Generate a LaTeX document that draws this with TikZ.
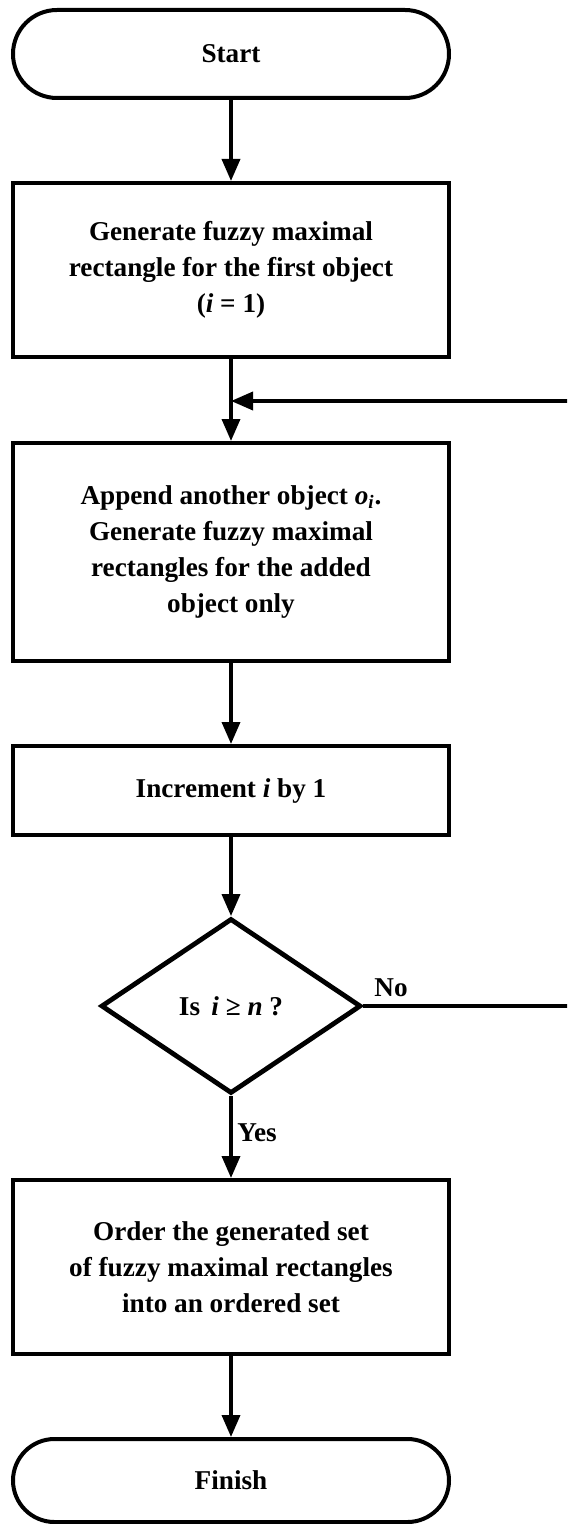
\documentclass[tikz,border=0pt]{standalone}
\usepackage{fontspec}
\setmainfont{Liberation Serif}
\usetikzlibrary{arrows.meta,shapes.geometric}

\begin{document}
\begin{tikzpicture}[x=0.5pt,y=-0.5pt,
  every node/.style={font=\fontsize{13.6}{18}\selectfont\bfseries},
  proc/.style={draw, line width=2pt, minimum width=218pt, align=center, inner sep=0pt},
  term/.style={draw, line width=2pt, minimum width=218pt, minimum height=44pt, rounded corners=22pt},
  decision/.style={draw, diamond, line width=2.4pt, minimum width=130pt, minimum height=87.5pt, inner sep=0pt},
  flow/.style={line width=1.8pt, -{Triangle[width=9pt,length=11pt]}},
  lbl/.style={inner sep=0pt}]

  % page frame; the loop-back line runs past the right edge
  \useasboundingbox (0,0) rectangle (567,1524);
  \clip (0,0) rectangle (567,1524);

  % steps, all on one vertical axis
  \node[term] (start) at (231,54) {Start};
  \node[proc, minimum height=87pt] (gen1) at (231,270)
    {Generate fuzzy maximal\\ rectangle for the first object\\ (\textit{i} = 1)};
  \coordinate (join) at (231,401);
  \node[proc, minimum height=109pt] (gen2) at (231,552)
    {Append another object \textit{o}\textsubscript{\textit{i}}.\\ Generate fuzzy maximal\\ rectangles for the added\\ object only};
  \node[proc, minimum height=44.5pt] (inc) at (231,790.5) {Increment \textit{i} by 1};
  \node[decision] (dec) at (231,1006) {Is\, \textit{i} ≥ \textit{n} ?};
  \node[proc, minimum height=87pt] (order) at (231,1267)
    {Order the generated set\\ of fuzzy maximal rectangles\\ into an ordered set};
  \node[term, minimum height=41.5pt, rounded corners=20.75pt] (finish) at (231,1480.5) {Finish};

  % loop-back route (outside the page on the right)
  \coordinate (outA) at (600,1006);
  \coordinate (outB) at (600,401);

  % connectors
  \draw[flow] (start) -- (gen1);
  \draw[flow] (gen1) -- (gen2);
  \draw[flow] (gen2) -- (inc);
  \draw[flow] (inc) -- (dec);
  \draw[flow] (dec) -- (order);
  \draw[flow] (order) -- (finish);
  \draw[flow] (dec.east) -- (outA) -- (outB) -- (join);

  % branch labels
  \node[lbl] (nolbl) at (391,988) {No};
  \node[lbl, anchor=west] (yeslbl) at (237,1133) {Yes};
\end{tikzpicture}
\end{document}
